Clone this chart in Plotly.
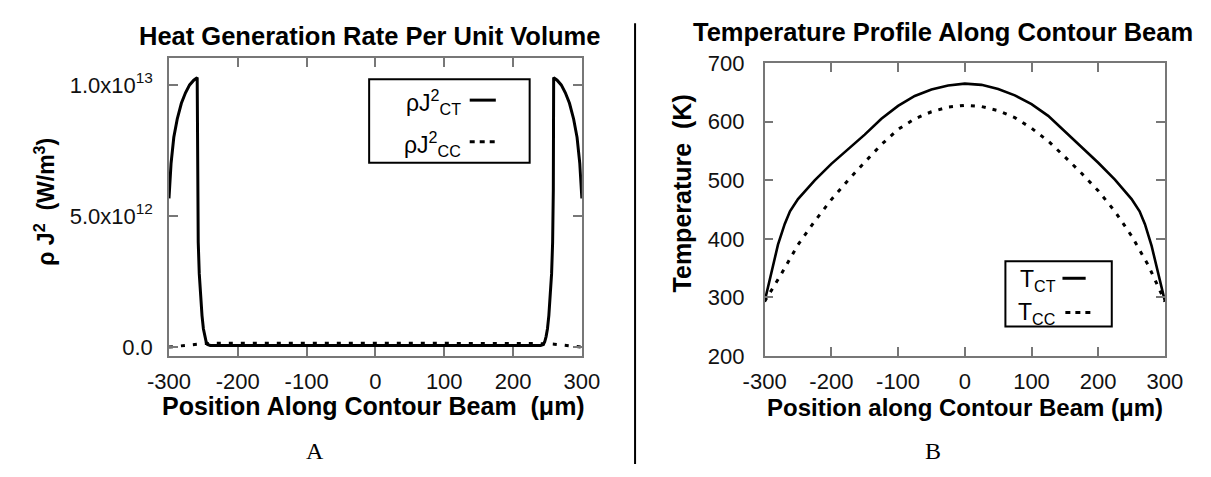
import plotly.graph_objects as go

# ---------------- data ----------------
# Panel A: heat generation rate per unit volume, rho*J^2 (W/m^3)
posA_ct = [-300, -297, -293, -288, -282, -276, -270, -264, -259, -258.5, -257.5, -256, -254,
           -252, -250, -248, -246, -244, -240, -200, -100, 0, 100, 200, 240, 244, 246, 248,
           250, 252, 254, 256, 257.5, 258.5, 259, 264, 270, 276, 282, 288, 293, 297, 300]
heat_ct = [0.567e13, 0.70e13, 0.80e13, 0.87e13, 0.93e13, 0.97e13, 1.0e13, 1.018e13, 1.028e13,
           0.60e13, 0.40e13, 0.28e13, 0.19e13, 0.12e13, 0.07e13, 0.04e13, 0.02e13, 0.01e13,
           0.006e13, 0.006e13, 0.006e13, 0.006e13, 0.006e13, 0.006e13, 0.006e13, 0.01e13,
           0.02e13, 0.04e13, 0.07e13, 0.12e13, 0.19e13, 0.28e13, 0.40e13, 0.60e13, 1.028e13,
           1.018e13, 1.0e13, 0.97e13, 0.93e13, 0.87e13, 0.80e13, 0.70e13, 0.567e13]
posA_cc = [-300, -290, -280, -270, -260, -250, -240, -200, -100, 0, 100, 200, 240, 250, 260,
           270, 280, 290, 300]
heat_cc = [0.0, 0.003e13, 0.006e13, 0.009e13, 0.011e13, 0.013e13, 0.014e13, 0.015e13, 0.015e13,
           0.015e13, 0.015e13, 0.015e13, 0.014e13, 0.013e13, 0.011e13, 0.009e13, 0.006e13,
           0.003e13, 0.0]

# Panel B: temperature along the contour beam (K)
posB_ct = [-300, -290, -280, -270, -262, -250, -225, -200, -175, -150, -125, -100, -75, -50,
           -25, 0, 25, 50, 75, 100, 125, 150, 175, 200, 225, 250, 262, 270, 280, 290, 300]
temp_ct = [293, 340, 390, 425, 447, 468, 500, 528, 553, 578, 605, 627, 644, 655, 662, 665,
           663, 656, 645, 630, 610, 583, 556, 530, 501, 468, 447, 425, 388, 340, 293]
posB_cc = [-300, -275, -250, -225, -200, -175, -150, -125, -100, -75, -50, -25, 0, 25, 50, 75,
           100, 125, 150, 175, 200, 225, 250, 275, 300]
temp_cc = [293, 340, 390, 430, 467, 500, 531, 561, 587, 605, 617, 625, 628, 626, 619, 607,
           589, 567, 540, 512, 482, 447, 405, 355, 293]

x_ticks = [-300, -200, -100, 0, 100, 200, 300]
x_ticktext = ["-300", "-200", "-100", "0", "100", "200", "300"]
yA_ticks = [0.0, 5.0e12, 1.0e13]
yA_ticktext = ["0.0", "5.0x10<sup>12</sup>", "1.0x10<sup>13</sup>"]
yB_ticks = [200, 300, 400, 500, 600, 700]
yB_ticktext = ["200", "300", "400", "500", "600", "700"]

# ---------------- figure ----------------
W, H = 1211, 477
def fx(p):
    return p / W
def fy(p):
    return 1 - p / H

SANS = "Liberation Sans, Arial, sans-serif"
SERIF = "Liberation Serif, Times New Roman, serif"
AX = "#777777"

fig = go.Figure()
fig.add_trace(go.Scatter(x=posA_ct, y=heat_ct, mode="lines", name="ρJ²CT",
                         line=dict(color="black", width=3), xaxis="x", yaxis="y"))
fig.add_trace(go.Scatter(x=posA_cc, y=heat_cc, mode="lines", name="ρJ²CC",
                         line=dict(color="black", width=3, dash="4px,8px"), xaxis="x", yaxis="y"))
fig.add_trace(go.Scatter(x=posB_ct, y=temp_ct, mode="lines", name="TCT",
                         line=dict(color="black", width=2.6), xaxis="x2", yaxis="y2"))
fig.add_trace(go.Scatter(x=posB_cc, y=temp_cc, mode="lines", name="TCC",
                         line=dict(color="black", width=3, dash="4px,7px"), xaxis="x2", yaxis="y2"))

axis_common = dict(showline=True, linecolor=AX, linewidth=1.5, mirror="ticks", ticks="inside",
                   ticklen=9, tickcolor=AX, tickwidth=1.5, showgrid=False, zeroline=False,
                   tickfont=dict(family=SANS, size=22, color="#111"))

fig.update_layout(
    width=W, height=H, margin=dict(l=0, r=0, t=0, b=0),
    paper_bgcolor="white", plot_bgcolor="white", showlegend=False,
    xaxis=dict(domain=[fx(152), fx(579)], range=[-300, 300], anchor="y",
               tickvals=x_ticks, ticktext=x_ticktext, ticklabelstandoff=5, **axis_common),
    yaxis=dict(domain=[fy(363), fy(49)], range=[-0.034e13, 1.101e13], anchor="x",
               tickvals=yA_ticks, ticktext=yA_ticktext, ticklabelstandoff=10, **axis_common),
    xaxis2=dict(domain=[fx(768), fx(1182)], range=[-300, 300], anchor="y2",
                tickvals=x_ticks, ticktext=x_ticktext, ticklabelstandoff=5, **axis_common),
    yaxis2=dict(domain=[fy(363), fy(54)], range=[200, 700], anchor="x2",
                tickvals=yB_ticks, ticktext=yB_ticktext, ticklabelstandoff=14, **axis_common),
)

def ann(text, x, y, size, bold=False, family=SANS, xanchor="center", angle=0):
    t = "<b>%s</b>" % text if bold else text
    fig.add_annotation(text=t, x=fx(x), y=fy(y), xref="paper", yref="paper",
                       xanchor=xanchor, yanchor="middle", showarrow=False, textangle=angle,
                       font=dict(family=family, size=size, color="black"))

# titles
ann("Heat Generation Rate Per Unit Volume", 359, 25, 25.5, bold=True)
ann("Temperature Profile Along Contour Beam", 952, 21, 25.5, bold=True)
# axis titles
ann("Position Along Contour Beam  (μm)", 364, 416, 25, bold=True)
ann("Position along Contour Beam (μm)", 975, 417, 24, bold=True)
ann("ρ J<sup>2</sup>  (W/m<sup>3</sup>)", 23, 200, 23, bold=True, angle=-90)
ann("Temperature  (K)", 683, 191, 25, bold=True, angle=-90)
# panel letters
ann("A", 303, 463, 24, family=SERIF)
ann("B", 942, 463, 24, family=SERIF)

# custom legends (label on the left, line sample on the right)
def box(x0, y0, x1, y1):
    fig.add_shape(type="rect", xref="paper", yref="paper", x0=fx(x0), y0=fy(y0), x1=fx(x1),
                  y1=fy(y1), line=dict(color="black", width=2), fillcolor="rgba(0,0,0,0)")

def sample(x0, x1, y, dash):
    fig.add_shape(type="line", xref="paper", yref="paper", x0=fx(x0), y0=fy(y), x1=fx(x1),
                  y1=fy(y), line=dict(color="black", width=3, dash=dash))

box(359, 71, 525, 159)
ann("ρJ<sup>2</sup><sub>CT</sub>", 456, 95, 23, xanchor="right")
ann("ρJ<sup>2</sup><sub>CC</sub>", 456, 139, 23, xanchor="right")
sample(463, 490, 93, "solid")
sample(463, 490, 137, "5px,5px")

box(1017, 263, 1127, 332)
ann("T<sub>CT</sub>", 1071, 283, 23, xanchor="right")
ann("T<sub>CC</sub>", 1071, 318, 23, xanchor="right")
sample(1076, 1100, 281, "solid")
sample(1079, 1107, 317, "5px,5px")

# divider between panels
fig.add_shape(type="line", xref="paper", yref="paper", x0=fx(634), y0=fy(12), x1=fx(634),
              y1=fy(477), line=dict(color="black", width=2))

fig.write_html("out.html")
